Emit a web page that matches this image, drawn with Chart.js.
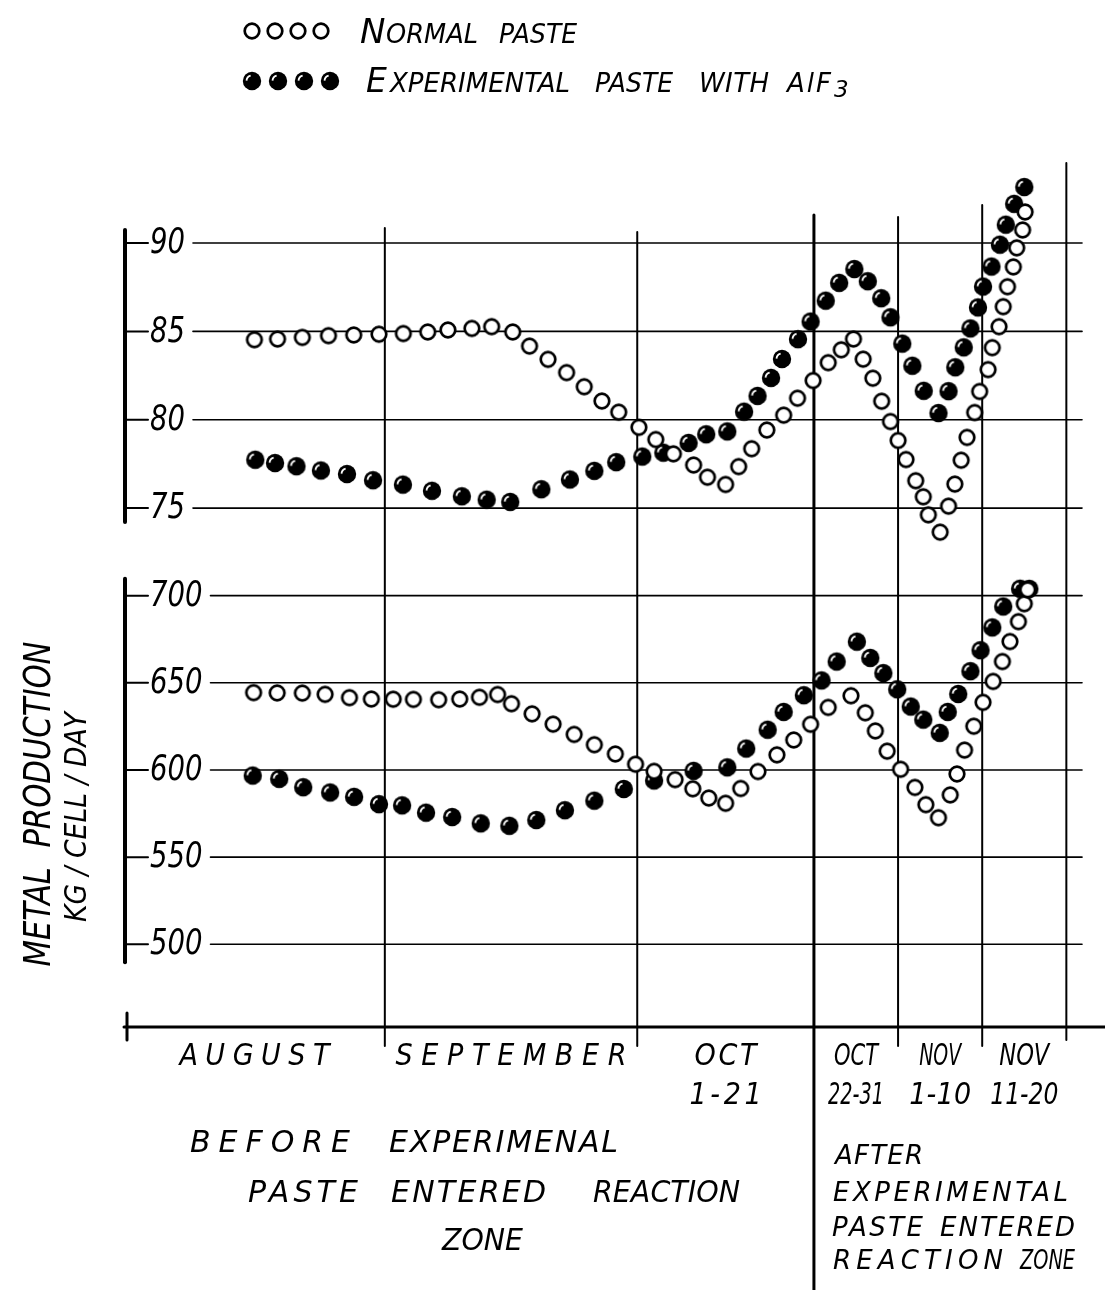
<!DOCTYPE html>
<html>
<head>
<meta charset="utf-8">
<title>Metal production, normal vs experimental paste</title>
<script src="https://cdn.jsdelivr.net/npm/chart.js@4.4.1/dist/chart.umd.min.js"></script>
<style>
  html, body { margin: 0; padding: 0; background: #fff; }
  canvas { display: block; }
</style>
</head>
<body>
<canvas id="chart" width="1105" height="1290"></canvas>
<script>
// x values are days counted from August 1
const periodStarts = [0, 31, 61, 82, 92, 102, 112];
const periodLabels = [['AUGUST'], ['SEPTEMBER'], ['OCT', '1-21'], ['OCT', '22-31'], ['NOV', '1-10'], ['NOV', '11-20']];

const upperTicks = [75, 80, 85, 90];
const lowerTicks = [500, 550, 600, 650, 700];

const upperNormalDays = [15.5, 18.25, 21.2, 24.3, 27.3, 30.3, 33.2, 36.1, 38.5, 41.35, 43.7, 46.2, 48.2, 50.4, 52.6, 54.7,
  56.8, 58.8, 61.2, 63.2, 65.3, 67.7, 69.35, 71.5, 73.05, 74.6, 76.4, 78.4, 80.05, 81.9, 83.7, 85.25, 86.7, 87.85, 89.0,
  90.05, 91.1, 92.0, 92.95, 94.1, 95.0, 95.6, 97.0, 98.0, 98.75, 99.5, 100.2, 101.1, 101.7, 102.7, 103.2, 104.0, 104.5,
  105.0, 105.7, 106.1, 106.8, 107.1];
const upperNormalValues = [84.53, 84.57, 84.66, 84.76, 84.8, 84.84, 84.88, 84.97, 85.08, 85.17, 85.27, 84.97, 84.17, 83.42,
  82.67, 81.87, 81.06, 80.43, 79.57, 78.88, 78.07, 77.44, 76.75, 76.34, 77.35, 78.36, 79.42, 80.26, 81.22, 82.22, 83.23,
  83.96, 84.57, 83.43, 82.35, 81.05, 79.9, 78.83, 77.75, 76.55, 75.64, 74.62, 73.64, 75.11, 76.36, 77.71, 79.0, 80.41,
  81.6, 82.84, 84.08, 85.27, 86.4, 87.53, 88.65, 89.73, 90.74, 91.76];

const upperExpDays = [15.6, 17.95, 20.5, 23.4, 26.5, 29.6, 33.15, 36.6, 40.15, 43.1, 45.9, 49.6, 53.0, 55.9, 58.5, 61.6,
  64.1, 67.1, 69.2, 71.7, 73.7, 75.3, 76.9, 78.2, 80.1, 81.6, 83.4, 85.0, 86.8, 88.4, 90.0, 91.1, 92.5, 93.7, 95.05,
  96.8, 98.0, 98.8, 99.8, 100.6, 101.5, 102.1, 103.1, 104.1, 104.8, 105.8, 107.0];
const upperExpValues = [77.74, 77.55, 77.37, 77.13, 76.93, 76.58, 76.33, 75.98, 75.67, 75.48, 75.35, 76.07, 76.62, 77.11,
  77.6, 77.92, 78.14, 78.69, 79.18, 79.34, 80.46, 81.35, 82.37, 83.44, 84.56, 85.56, 86.74, 87.75, 88.53, 87.84, 86.88,
  85.8, 84.31, 83.06, 81.64, 80.38, 81.62, 82.97, 84.1, 85.17, 86.36, 87.54, 88.67, 89.91, 91.04, 92.22, 93.17];

const lowerNormalDays = [15.4, 18.2, 21.2, 23.9, 26.8, 29.4, 32.0, 34.4, 37.4, 39.9, 42.25, 44.4, 46.05, 48.5, 51.0, 53.5,
  55.9, 58.4, 60.8, 63.0, 65.5, 67.6, 69.5, 71.5, 73.3, 75.35, 77.6, 79.6, 81.6, 83.7, 86.4, 88.1, 89.3, 90.7, 92.3,
  94.0, 95.3, 96.8, 98.2, 99.0, 99.9, 101.0, 102.1, 103.3, 104.4, 105.3, 106.3, 107.0, 107.4];
const lowerNormalValues = [644.4, 644.2, 644.1, 643.4, 641.5, 640.7, 640.6, 640.5, 640.3, 640.7, 641.7, 643.3, 638.0,
  632.2, 626.3, 620.4, 614.5, 609.2, 603.3, 599.2, 594.5, 589.2, 583.9, 580.9, 589.4, 599.1, 608.7, 617.2, 626.2, 635.9,
  642.6, 632.8, 622.4, 610.8, 600.4, 590.0, 580.1, 572.6, 585.7, 597.7, 611.4, 625.1, 638.8, 650.8, 662.2, 673.7, 685.1,
  695.4, 703.4];

const lowerExpDays = [15.3, 18.45, 21.3, 24.5, 27.35, 30.3, 33.05, 35.9, 39.0, 42.4, 45.8, 49.0, 52.4, 55.9, 59.4, 63.0,
  67.7, 71.7, 73.95, 76.5, 78.4, 80.8, 82.9, 84.7, 87.1, 88.7, 90.25, 91.9, 93.5, 95.0, 96.95, 97.9, 99.15, 100.6, 101.8,
  103.2, 104.5, 106.5, 107.6];
const lowerExpValues = [596.8, 594.9, 590.1, 587.1, 584.6, 580.4, 579.7, 575.5, 573.0, 569.4, 568.0, 571.3, 576.9, 582.4,
  589.1, 594.0, 599.5, 601.5, 612.3, 623.1, 633.3, 642.9, 651.4, 662.2, 673.6, 664.3, 655.6, 646.3, 636.4, 628.9, 621.3,
  633.3, 643.6, 656.7, 668.7, 681.8, 693.8, 704.0, 703.9];

const INK = '#000';
const NARROW = "'DejaVu Sans Condensed', 'DejaVu Sans', sans-serif";
const WIDE = "'DejaVu Sans', sans-serif";

// hand drawn look: the vertical dividers start at different heights
const dividerTops = [228, 232, 215, 217, 205, 163];
const dividerBottoms = [1046, 1046, 1290, 1046, 1046, 1040];
const periodWidths = [[150, 231, 62, 44, 42, 50], [0, 0, 72, 56, 62, 68]];

function makeDot(filled) {
  const c = document.createElement('canvas');
  c.width = 22;
  c.height = 22;
  const g = c.getContext('2d');
  g.beginPath();
  if (filled) {
    g.arc(11, 11, 9.2, 0, Math.PI * 2);
    g.fillStyle = INK;
    g.fill();
    g.beginPath();
    g.arc(11, 11, 5.5, Math.PI * 1.02, Math.PI * 1.42);
    g.strokeStyle = '#fff';
    g.lineWidth = 1.8;
    g.stroke();
  } else {
    g.arc(11, 11, 7.3, 0, Math.PI * 2);
    g.fillStyle = '#fff';
    g.fill();
    g.strokeStyle = INK;
    g.lineWidth = 2.7;
    g.stroke();
  }
  return c;
}

const openDot = makeDot(false);
const fullDot = makeDot(true);

function line(ctx, x1, y1, x2, y2) {
  ctx.beginPath();
  ctx.moveTo(x1, y1);
  ctx.lineTo(x2, y2);
  ctx.stroke();
}

// lettering stretched or squeezed to the width it has on the drawing
function ink(ctx, text, x, y, size, width, align, family = WIDE) {
  ctx.font = `italic ${size}px ${family}`;
  ctx.letterSpacing = '0px';
  ctx.textAlign = 'left';
  const natural = ctx.measureText(text).width;
  if (!width) width = natural;
  const left = align === 'center' ? x - width / 2 : x;
  if (natural < width && text.length > 1) {
    ctx.letterSpacing = ((width - natural) / (text.length - 1)) + 'px';
    ctx.fillText(text, left, y);
    ctx.letterSpacing = '0px';
  } else {
    ctx.fillText(text, left, y, width);
  }
}

function panelAxis(ctx, xScale, yScale, ticks, overTop, overBottom) {
  const axisX = xScale.left + 1;
  const top = yScale.getPixelForValue(ticks[ticks.length - 1]) - overTop;
  const bottom = yScale.getPixelForValue(ticks[0]) + overBottom;
  ctx.lineWidth = 4;
  line(ctx, axisX, top, axisX, bottom);
  ctx.font = `italic 35px ${NARROW}`;
  ctx.textBaseline = 'middle';
  ctx.textAlign = 'left';
  ticks.forEach((v) => {
    const py = yScale.getPixelForValue(v);
    const label = String(v);
    const w = 17.5 * label.length;
    const lx = axisX + 25;
    ctx.lineWidth = 2;
    line(ctx, axisX, py, lx - 2, py);
    ctx.fillText(label, lx, py + 1, w);
    ctx.lineWidth = 1.6;
    line(ctx, lx + w + 8, py, 1082, py);
  });
  ctx.textBaseline = 'alphabetic';
}

const paperPlugin = {
  id: 'paper',
  beforeDatasetsDraw(chart) {
    const { ctx, chartArea, scales: { x, yTop, yBottom } } = chart;
    ctx.save();
    ctx.strokeStyle = INK;
    ctx.fillStyle = INK;
    ctx.lineCap = 'round';

    panelAxis(ctx, x, yTop, upperTicks, 13, 14);
    panelAxis(ctx, x, yBottom, lowerTicks, 17, 18);

    periodStarts.slice(1).forEach((d, i) => {
      const px = x.getPixelForValue(d);
      ctx.lineWidth = i === 2 ? 3 : 2;
      line(ctx, px, dividerTops[i], px, dividerBottoms[i]);
    });

    ctx.lineWidth = 3;
    line(ctx, chartArea.left, chartArea.bottom, 1105, chartArea.bottom);
    line(ctx, chartArea.left + 3, chartArea.bottom - 14, chartArea.left + 3, chartArea.bottom + 13);
    ctx.restore();
  },
  afterDraw(chart) {
    const { ctx, scales: { x } } = chart;
    ctx.save();
    ctx.fillStyle = INK;

    // period names under the time axis
    periodLabels.forEach((rows, i) => {
      const cx = x.getPixelForValue((periodStarts[i] + periodStarts[i + 1]) / 2);
      rows.forEach((t, r) => ink(ctx, t, cx, r ? 1104 : 1065, 30, periodWidths[r][i], 'center', NARROW));
    });

    // notes
    [['BEFORE', 190, 160, 1152], ['EXPERIMENAL', 389, 229, 1152],
     ['PASTE', 248, 110, 1202], ['ENTERED', 391, 155, 1202], ['REACTION', 593, 147, 1202],
     ['ZONE', 442, 81, 1250]].forEach(([t, l, w, b]) => ink(ctx, t, l, b, 30, w));
    [['AFTER', 835, 88, 1164], ['EXPERIMENTAL', 833, 235, 1201],
     ['PASTE', 832, 91, 1236], ['ENTERED', 940, 135, 1236],
     ['REACTION', 833, 170, 1269], ['ZONE', 1020, 55, 1269]].forEach(([t, l, w, b]) => ink(ctx, t, l, b, 26, w));

    // y title
    ctx.save();
    ctx.translate(40, 804);
    ctx.rotate(-Math.PI / 2);
    ctx.textBaseline = 'middle';
    ink(ctx, 'METAL  PRODUCTION', 0, 0, 37, 325, 'center', NARROW);
    ctx.restore();
    ctx.save();
    ctx.translate(78, 817);
    ctx.rotate(-Math.PI / 2);
    ctx.textBaseline = 'middle';
    ink(ctx, 'KG / CELL / DAY', 0, 0, 31, 210, 'center', NARROW);
    ctx.restore();

    // legend
    [252, 275, 298, 321].forEach((px) => ctx.drawImage(openDot, px - 11, 31 - 11));
    [252, 278, 304, 330].forEach((px) => ctx.drawImage(fullDot, px - 11, 81 - 11));
    ink(ctx, 'N', 360, 43, 34);
    ink(ctx, 'ORMAL', 386, 43, 26, 92);
    ink(ctx, 'PASTE', 499, 43, 26, 78);
    ink(ctx, 'E', 366, 92, 33);
    ink(ctx, 'XPERIMENTAL', 390, 92, 26, 180);
    ink(ctx, 'PASTE', 595, 92, 26, 78);
    ink(ctx, 'WITH', 699, 92, 26, 70);
    ink(ctx, 'AlF', 787, 92, 26, 44);
    ink(ctx, '3', 834, 97, 23);
    ctx.restore();
  },
};

const toPoints = (days, values) => days.map((d, i) => ({ x: d, y: values[i] }));

const chart = new Chart(document.getElementById('chart'), {
  type: 'scatter',
  data: {
    datasets: [
      { label: 'Normal paste', data: toPoints(upperNormalDays, upperNormalValues), yAxisID: 'yTop', pointStyle: openDot, order: 0 },
      { label: 'Normal paste', data: toPoints(lowerNormalDays, lowerNormalValues), yAxisID: 'yBottom', pointStyle: openDot, order: 0 },
      { label: 'Experimental paste with AlF3', data: toPoints(upperExpDays, upperExpValues), yAxisID: 'yTop', pointStyle: fullDot, order: 1 },
      { label: 'Experimental paste with AlF3', data: toPoints(lowerExpDays, lowerExpValues), yAxisID: 'yBottom', pointStyle: fullDot, order: 1 },
    ],
  },
  options: {
    responsive: false,
    animation: false,
    devicePixelRatio: 1,
    events: [],
    clip: false,
    layout: { padding: { left: 124, right: 5, top: 160, bottom: 263 } },
    plugins: { legend: { display: false }, tooltip: { enabled: false } },
    scales: {
      x: {
        type: 'linear',
        min: 0,
        max: 116,
        grid: { display: false },
        border: { display: false },
        ticks: { display: false },
        afterFit: (s) => { s.height = 0; },
      },
      // stacked left axes are placed from the last one defined downwards
      yBottom: {
        type: 'linear',
        position: 'left',
        stack: 'panels',
        stackWeight: 477,
        min: 452.55,
        max: 726.2,
        grid: { display: false },
        border: { display: false },
        ticks: { display: false },
        afterFit: (s) => { s.width = 0; },
      },
      yTop: {
        type: 'linear',
        position: 'left',
        stack: 'panels',
        stackWeight: 390,
        min: 72.63,
        max: 94.7,
        grid: { display: false },
        border: { display: false },
        ticks: { display: false },
        afterFit: (s) => { s.width = 0; },
      },
    },
  },
  plugins: [paperPlugin],
});
</script>
</body>
</html>
